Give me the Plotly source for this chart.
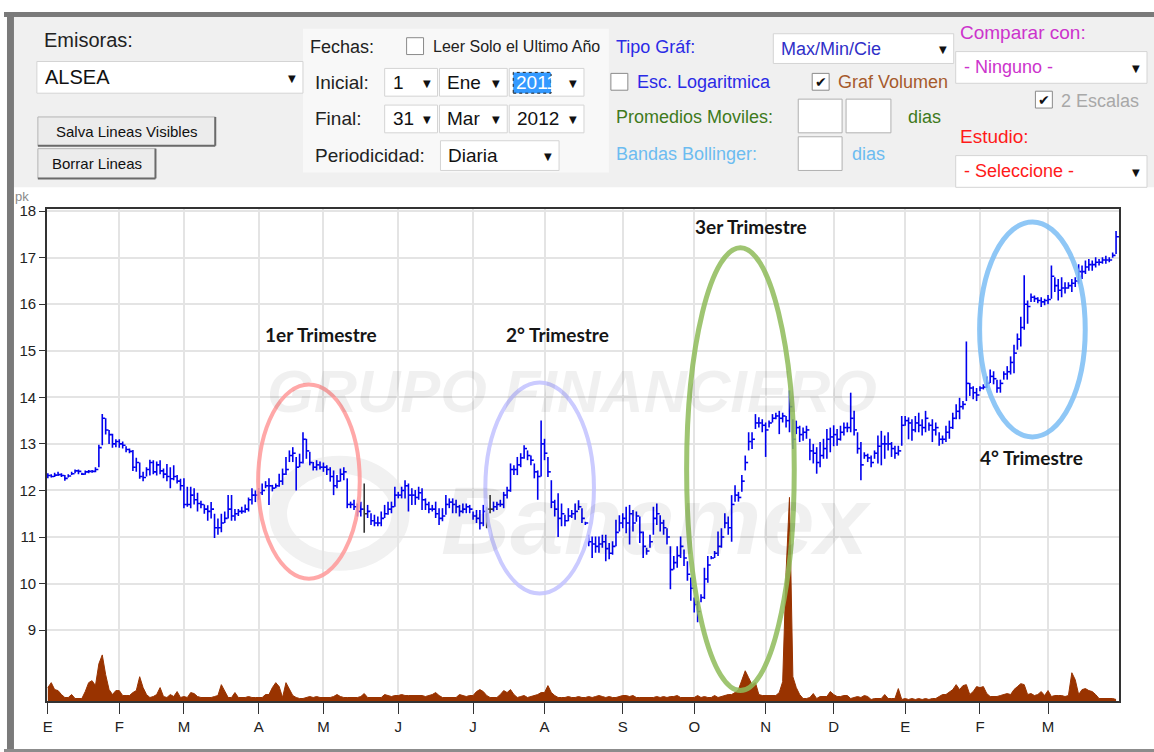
import pandas as pd
import plotly.graph_objects as go

# ---------------- datos ----------------
feriados = ["2011-02-07", "2011-03-21", "2011-04-21", "2011-04-22", "2011-09-16",
            "2011-11-02", "2011-11-21", "2011-12-12", "2012-02-06", "2012-03-19"]
fechas = pd.bdate_range("2011-01-03", "2012-03-30")
fechas = fechas[~fechas.isin(pd.to_datetime(feriados))]

meses = ["E", "F", "M", "A", "M", "J", "J", "A", "S", "O", "N", "D", "E", "F", "M"]
precios_eje = [9, 10, 11, 12, 13, 14, 15, 16, 17, 18]

maximo = [
    # ene 2011
    12.37, 12.35, 12.38, 12.40, 12.37, 12.33, 12.35, 12.40, 12.45, 12.45, 12.38, 12.43, 12.44, 12.44, 12.50, 12.98, 13.64, 13.55, 13.30, 13.22, 13.10,
    # feb
    13.10, 13.05, 12.95, 12.90, 12.87, 12.70, 12.60, 12.40, 12.50, 12.66, 12.65, 12.62, 12.65, 12.47, 12.57, 12.50, 12.54, 12.33, 12.25,
    # mar
    12.26, 12.08, 12.08, 12.05, 11.95, 11.78, 11.70, 11.68, 11.75, 11.50, 11.40, 11.50, 11.55, 11.90, 11.90, 11.60, 11.60, 11.65, 11.70, 11.85, 12.05, 12.00,
    # abr
    12.05, 12.15, 12.20, 12.26, 12.12, 12.15, 12.36, 12.47, 12.72, 12.86, 12.93, 12.72, 12.79, 13.25, 13.11, 12.83, 12.61, 12.65, 12.62,
    # may
    12.60, 12.54, 12.50, 12.43, 12.33, 12.47, 12.50, 12.26, 11.76, 11.80, 11.72, 11.76, 12.15, 11.69, 11.51, 11.48, 11.44, 11.55, 11.69, 11.76, 11.76, 12.08,
    # jun
    11.97, 12.08, 12.22, 12.15, 12.05, 12.01, 12.08, 12.05, 11.83, 11.76, 11.69, 11.76, 11.62, 11.62, 11.90, 11.83, 11.83, 11.80, 11.69, 11.72, 11.72, 11.69,
    # jul
    11.55, 11.58, 11.58, 11.69, 11.65, 11.90, 11.76, 11.76, 11.80, 11.97, 12.08, 12.58, 12.54, 12.72, 12.80, 12.97, 12.86, 12.75, 12.58, 12.43, 13.50,
    # ago
    13.11, 12.72, 12.22, 11.80, 11.94, 11.72, 11.48, 11.62, 11.58, 11.72, 11.79, 11.62, 11.33, 11.05, 11.01, 11.01, 11.01, 11.05, 11.05, 10.87, 10.91, 11.37, 11.47,
    # sep
    11.51, 11.65, 11.69, 11.58, 11.55, 11.44, 11.12, 10.77, 11.05, 11.65, 11.72, 11.47, 11.37, 11.19, 10.80, 10.59, 10.80, 11.01, 10.73, 10.48, 10.13,
    # oct
    9.70, 9.63, 9.77, 10.34, 10.59, 10.59, 10.70, 11.12, 11.19, 11.51, 11.44, 11.90, 12.11, 11.97, 12.33, 12.75, 13.25, 13.25, 13.64, 13.57, 13.53,
    # nov
    13.46, 13.50, 13.64, 13.67, 13.71, 13.67, 13.60, 14.15, 13.53, 13.50, 13.39, 13.35, 13.39, 13.11, 13.00, 12.93, 13.04, 13.11, 13.32, 13.35,
    # dic
    13.40, 13.32, 13.39, 13.46, 13.46, 14.10, 13.71, 13.25, 13.04, 12.82, 12.79, 12.75, 12.86, 13.18, 13.28, 13.18, 13.25, 13.04, 12.96, 12.96, 13.60,
    # ene 2012
    13.60, 13.57, 13.53, 13.60, 13.67, 13.53, 13.71, 13.46, 13.53, 13.46, 13.25, 13.18, 13.39, 13.50, 13.67, 13.85, 13.99, 13.92, 15.20, 14.31, 14.24, 14.20,
    # feb
    14.24, 14.28, 14.45, 14.60, 14.56, 14.38, 14.38, 14.56, 14.67, 14.88, 15.13, 15.37, 15.73, 16.62, 16.08, 16.23, 16.19, 16.15, 16.15, 16.12,
    # mar
    16.20, 16.83, 16.58, 16.54, 16.58, 16.47, 16.47, 16.54, 16.58, 16.86, 16.83, 16.94, 16.97, 16.94, 17.01, 16.97, 17.01, 17.04, 17.01, 17.11, 17.57,
]

minimo = [
    12.26, 12.28, 12.29, 12.31, 12.29, 12.21, 12.28, 12.33, 12.37, 12.35, 12.33, 12.34, 12.37, 12.38, 12.39, 12.50, 12.97, 13.20, 13.00, 12.92, 12.93,
    12.92, 12.90, 12.82, 12.80, 12.42, 12.40, 12.25, 12.20, 12.30, 12.32, 12.35, 12.32, 12.35, 12.26, 12.20, 12.05, 12.22, 12.15, 12.00,
    11.62, 11.65, 11.62, 11.70, 11.55, 11.62, 11.50, 11.35, 11.40, 10.98, 11.05, 11.10, 11.30, 11.40, 11.35, 11.35, 11.45, 11.50, 11.52, 11.55, 11.70, 11.75,
    11.80, 11.90, 12.05, 11.69, 11.98, 12.05, 12.08, 12.12, 12.33, 12.61, 12.61, 12.00, 12.50, 12.58, 12.68, 12.54, 12.43, 12.43, 12.45,
    12.40, 12.33, 12.19, 11.90, 12.05, 12.19, 12.22, 11.62, 11.62, 11.58, 11.44, 11.44, 11.09, 11.41, 11.26, 11.23, 11.23, 11.23, 11.41, 11.48, 11.51, 11.65,
    11.83, 11.83, 11.83, 11.55, 11.69, 11.69, 11.80, 11.58, 11.58, 11.51, 11.55, 11.41, 11.26, 11.34, 11.48, 11.62, 11.51, 11.51, 11.44, 11.51, 11.51, 11.51,
    11.37, 11.30, 11.16, 11.23, 11.19, 11.51, 11.55, 11.58, 11.65, 11.62, 11.83, 11.97, 12.33, 12.33, 12.50, 12.68, 12.65, 12.54, 12.26, 11.80, 12.30,
    12.65, 12.29, 11.62, 11.44, 11.00, 11.23, 11.23, 11.34, 11.41, 11.37, 11.58, 11.30, 11.26, 10.80, 10.55, 10.66, 10.66, 10.77, 10.48, 10.52, 10.62, 10.80, 11.12,
    11.19, 11.08, 10.84, 11.12, 11.33, 10.87, 10.55, 10.62, 10.77, 11.05, 11.26, 11.12, 11.05, 10.84, 9.88, 10.30, 10.34, 10.55, 10.38, 10.06, 9.63,
    9.38, 9.17, 9.60, 9.67, 10.02, 10.52, 10.55, 10.59, 10.77, 11.19, 11.05, 10.90, 11.76, 11.76, 11.97, 12.43, 12.86, 12.89, 13.32, 13.35, 13.25,
    12.72, 13.35, 13.46, 13.53, 13.21, 13.46, 13.35, 13.25, 12.89, 13.21, 13.04, 13.07, 13.11, 12.65, 12.58, 12.36, 12.50, 12.68, 12.68, 12.82,
    12.95, 12.96, 13.07, 13.18, 13.25, 13.25, 13.18, 12.79, 12.22, 12.68, 12.61, 12.50, 12.68, 12.58, 12.54, 12.68, 12.86, 12.72, 12.68, 12.75, 12.96,
    13.39, 13.10, 13.07, 13.25, 13.25, 13.18, 13.25, 13.28, 13.04, 13.18, 12.96, 13.00, 13.04, 13.11, 13.32, 13.53, 13.53, 13.74, 13.92, 14.03, 13.96, 13.92,
    14.13, 14.17, 14.20, 14.31, 14.28, 14.10, 14.10, 14.38, 14.38, 14.49, 14.52, 15.02, 15.09, 15.45, 15.58, 16.05, 16.05, 16.02, 15.94, 15.98,
    16.00, 16.12, 16.26, 16.08, 16.15, 16.23, 16.33, 16.26, 16.37, 16.44, 16.54, 16.65, 16.72, 16.72, 16.79, 16.83, 16.87, 16.87, 16.90, 17.00, 17.08,
]

cierre = [
    12.32, 12.30, 12.33, 12.34, 12.32, 12.26, 12.31, 12.36, 12.42, 12.41, 12.35, 12.40, 12.41, 12.41, 12.45, 12.92, 13.55, 13.30, 13.20, 13.00, 13.05,
    13.00, 12.97, 12.88, 12.84, 12.50, 12.60, 12.30, 12.28, 12.45, 12.60, 12.40, 12.55, 12.42, 12.35, 12.30, 12.25, 12.30, 12.20, 12.10,
    11.70, 11.70, 11.90, 11.80, 11.72, 11.70, 11.60, 11.55, 11.60, 11.20, 11.20, 11.30, 11.40, 11.60, 11.45, 11.50, 11.55, 11.55, 11.60, 11.80, 11.90, 11.90,
    11.95, 12.00, 12.10, 12.10, 12.05, 12.10, 12.20, 12.35, 12.45, 12.75, 12.80, 12.50, 12.60, 13.10, 12.85, 12.60, 12.50, 12.55, 12.50,
    12.50, 12.45, 12.30, 12.10, 12.20, 12.35, 12.40, 11.70, 11.70, 11.65, 11.55, 11.60, 11.50, 11.55, 11.35, 11.30, 11.30, 11.40, 11.50, 11.60, 11.65, 11.90,
    11.90, 12.00, 12.10, 11.90, 11.90, 11.85, 11.95, 11.80, 11.70, 11.60, 11.60, 11.50, 11.40, 11.45, 11.70, 11.75, 11.70, 11.65, 11.55, 11.60, 11.65, 11.60,
    11.45, 11.40, 11.30, 11.55, 11.60, 11.60, 11.65, 11.70, 11.70, 11.90, 12.00, 12.45, 12.45, 12.55, 12.70, 12.90, 12.75, 12.65, 12.40, 12.30, 13.00,
    12.80, 12.40, 11.75, 11.60, 11.40, 11.50, 11.35, 11.45, 11.50, 11.55, 11.65, 11.40, 11.30, 10.90, 10.85, 10.80, 10.85, 10.90, 10.75, 10.65, 10.80, 11.10, 11.30,
    11.40, 11.30, 11.50, 11.30, 11.45, 11.10, 10.80, 10.70, 10.90, 11.40, 11.50, 11.30, 11.20, 11.00, 10.30, 10.45, 10.60, 10.80, 10.55, 10.20, 9.90,
    9.55, 9.40, 9.70, 10.10, 10.40, 10.55, 10.65, 10.80, 11.00, 11.30, 11.20, 11.70, 11.90, 11.85, 12.20, 12.60, 13.05, 13.10, 13.45, 13.45, 13.40,
    13.30, 13.45, 13.55, 13.60, 13.55, 13.60, 13.50, 13.80, 13.10, 13.35, 13.20, 13.25, 13.30, 12.85, 12.80, 12.60, 12.75, 12.90, 13.10, 13.15,
    13.20, 13.10, 13.25, 13.35, 13.35, 13.55, 13.30, 12.90, 12.55, 12.75, 12.70, 12.60, 12.80, 12.95, 13.00, 13.00, 13.00, 12.90, 12.80, 12.85, 13.40,
    13.50, 13.45, 13.30, 13.45, 13.40, 13.35, 13.55, 13.40, 13.30, 13.35, 13.10, 13.10, 13.25, 13.35, 13.55, 13.70, 13.80, 13.85, 14.30, 14.20, 14.10, 14.05,
    14.20, 14.22, 14.30, 14.45, 14.40, 14.20, 14.30, 14.50, 14.55, 14.75, 14.95, 15.25, 15.50, 16.00, 15.95, 16.15, 16.12, 16.08, 16.05, 16.08,
    16.10, 16.60, 16.40, 16.30, 16.35, 16.35, 16.40, 16.45, 16.50, 16.70, 16.70, 16.80, 16.85, 16.85, 16.90, 16.90, 16.95, 16.95, 16.95, 17.05, 17.45,
]

# volumen (cientos de miles de acciones)
volumen = [
    14, 19, 12, 11, 7, 4, 4, 7, 3, 3, 3, 10, 19, 21, 16, 38, 47, 27, 12, 7, 11,
    11, 6, 6, 6, 9, 11, 25, 14, 7, 4, 5, 7, 14, 5, 4, 7, 5, 10, 4,
    5, 4, 9, 8, 5, 4, 4, 4, 4, 5, 6, 17, 11, 4, 4, 9, 4, 4, 4, 5, 4, 4,
    4, 4, 7, 7, 14, 19, 15, 4, 19, 12, 6, 4, 3, 3, 4, 5, 4, 5, 4,
    4, 4, 4, 5, 7, 5, 4, 4, 4, 4, 4, 5, 8, 4, 4, 4, 4, 4, 7, 6, 5, 6,
    6, 7, 6, 6, 6, 6, 6, 6, 5, 6, 7, 9, 6, 4, 4, 4, 4, 4, 7, 6, 5, 6,
    6, 10, 12, 10, 6, 4, 4, 4, 7, 11, 9, 12, 7, 4, 5, 6, 4, 5, 6, 7, 9,
    9, 16, 9, 6, 4, 4, 4, 5, 4, 4, 5, 4, 4, 5, 4, 5, 6, 5, 4, 5, 4, 4, 5,
    6, 6, 5, 6, 4, 4, 4, 4, 4, 4, 5, 4, 5, 4, 5, 5, 6, 4, 4, 4, 4,
    4, 6, 4, 5, 4, 4, 6, 4, 5, 6, 7, 7, 9, 12, 21, 31, 24, 17, 19, 7, 6,
    6, 6, 6, 6, 9, 20, 130, 206, 25, 14, 7, 3, 3, 4, 8, 3, 5, 5, 5, 10,
    7, 5, 5, 6, 6, 3, 4, 5, 4, 6, 5, 2, 3, 3, 3, 7, 3, 3, 3, 13, 2,
    3, 2, 3, 2, 3, 2, 3, 2, 3, 3, 5, 7, 7, 10, 12, 17, 12, 16, 17, 7, 10, 15,
    14, 15, 8, 5, 5, 5, 6, 7, 8, 7, 12, 15, 18, 17, 7, 8, 6, 7, 10, 6,
    11, 5, 6, 6, 6, 5, 6, 29, 22, 7, 12, 13, 11, 10, 7, 3, 3, 3, 3, 3, 2,
]

# barras que el gráfico muestra en gris oscuro
barras_oscuras = [93, 129, 130]

n = min(len(fechas), len(maximo), len(minimo), len(cierre), len(volumen))
print(len(fechas), len(maximo), len(minimo), len(cierre), len(volumen))

inicio_mes = [i for i in range(n) if i == 0 or fechas[i].month != fechas[i - 1].month]
inicio_2012 = [i for i in range(n) if fechas[i].year == 2012][0]


def trazo_barras(indices):
    xs, ys = [], []
    for i in indices:
        xs += [i, i, None, i, i + 0.85, None]
        ys += [minimo[i], maximo[i], None, cierre[i], cierre[i], None]
    return xs, ys


xs_az, ys_az = trazo_barras([i for i in range(n) if i not in barras_oscuras])
xs_os, ys_os = trazo_barras([i for i in barras_oscuras if i < n])

W, H = 1154, 752
UI = "Liberation Sans, Arial, sans-serif"


def px(x):
    return x / W


def py(y):
    return 1 - y / H


shapes = []
annotations = []


def rect(x0, y0, x1, y1, fill, line=None, lw=1, dash=None, layer="below"):
    ln = dict(color=line if line else fill, width=lw if line else 0)
    if dash:
        ln["dash"] = dash
    shapes.append(dict(type="rect", xref="paper", yref="paper", x0=px(x0), x1=px(x1),
                       y0=py(y1), y1=py(y0), fillcolor=fill, line=ln, layer=layer))


def linea(x0, y0, x1, y1, color, lw=1, layer="below"):
    shapes.append(dict(type="line", xref="paper", yref="paper", x0=px(x0), x1=px(x1),
                       y0=py(y0), y1=py(y1), line=dict(color=color, width=lw), layer=layer))


def texto(x, y, s, size=19, color="#222222", anchor="left", family=UI):
    annotations.append(dict(x=px(x), y=py(y), xref="paper", yref="paper", text=s,
                            showarrow=False, xanchor=anchor, yanchor="middle",
                            font=dict(size=size, color=color, family=family)))


def ovalo(x0, y0, x1, y1, color, lw=4):
    shapes.append(dict(type="circle", xref="paper", yref="paper", x0=px(x0), x1=px(x1),
                       y0=py(y1), y1=py(y0), line=dict(color=color, width=lw),
                       opacity=0.85, layer="above"))


def combo(x0, y0, x1, y1, s, color="#111111", size=19):
    rect(x0, y0, x1, y1, "white", "#d4d4d4")
    texto(x0 + 6, (y0 + y1) / 2, s, size, color)
    texto(x1 - 11, (y0 + y1) / 2 + 1, "▼", 10, "#111111", "center", "DejaVu Sans")


def casilla(x0, y0, marcada=False):
    rect(x0, y0, x0 + 17, y0 + 17, "white", "#8a8a8a")
    if marcada:
        texto(x0 + 8.5, y0 + 9, "✔", 14, "#111111", "center", "DejaVu Sans")


def boton(x0, y0, x1, y1, s):
    rect(x0, y0, x1, y1, "#ececec", "#b4b4b4")
    linea(x0, y1, x1, y1, "#6a6a6a", 2)
    linea(x1, y0, x1, y1, "#6a6a6a", 2)
    texto((x0 + x1) / 2, (y0 + y1) / 2, s, 15, "#111111", "center")


# marco y panel de controles
rect(10, 10, W, 182, "#f0f0f0")
rect(0, 5, W, 10, "#7a7a7a")
rect(3, 5, 10, H, "#7a7a7a")
rect(0, 749, W, H, "#8c8c8c")
rect(300, 22, 607, 167, "#f8f8f8")

texto(38, 33, "Emisoras:", 20)
combo(33, 55, 300, 87, "ALSEA", size=20)
boton(34, 111, 212, 140, "Salva Lineas Visibles")
boton(34, 143, 152, 173, "Borrar Lineas")

texto(305, 40, "Fechas:", 18)
casilla(404, 31)
texto(428, 40, "Leer Solo el Ultimo Año", 16)
texto(310, 76, "Inicial:")
combo(382, 62, 435, 90, "1")
combo(437, 62, 505, 90, "Ene")
combo(507, 62, 582, 90, "")
rect(511, 66, 549, 87, "#3399ff", "#222222", 1, "dot")
texto(512, 76.5, "2011", 19, "white")
texto(310, 113, "Final:")
combo(382, 99, 435, 127, "31")
combo(437, 99, 505, 127, "Mar")
combo(507, 99, 582, 127, "2012")
texto(310, 150, "Periodicidad:")
combo(438, 135, 557, 165, "Diaria")

azul_ui = "#2b2be6"
texto(612, 40, "Tipo Gráf:", 18, azul_ui)
combo(772, 27, 953, 57, "Max/Min/Cie", "#3030c8", 18)
casilla(609, 67)
texto(633, 76, "Esc. Logaritmica", 18, azul_ui)
casilla(811, 67, True)
texto(835, 76, "Graf Volumen", 18, "#a65a2c")
texto(612, 111, "Promedios Moviles:", 18, "#3f7a1c")
rect(797, 93, 841, 127, "white", "#b0b0b0")
rect(845, 93, 890, 127, "white", "#b0b0b0")
texto(905, 111, "dias", 18, "#3f7a1c")
texto(612, 148, "Bandas Bollinger:", 18, "#6cbcf0")
rect(797, 131, 841, 165, "white", "#b0b0b0")
texto(849, 148, "dias", 18, "#6cbcf0")

texto(957, 26, "Comparar con:", 19, "#cc33cc")
combo(955, 45, 1147, 77, "- Ninguno -", "#cc33cc", 18)
casilla(1035, 85, True)
texto(1059, 95, "2 Escalas", 18, "#a8a8a8")
texto(957, 131, "Estudio:", 19, "#ff1a1a")
combo(955, 150, 1147, 182, "- Seleccione -", "#ff1a1a", 18)

texto(18, 191, "pk", 13, "#8a8a8a", "center")

# marca de agua
shapes.append(dict(type="circle", xref="paper", yref="paper", x0=px(275), x1=px(398),
                   y0=py(560), y1=py(462), line=dict(color="#f1f1f1", width=18), layer="below"))
texto(570, 388, "<b><i>GRUPO FINANCIERO</i></b>", 60, "rgba(0,0,0,0.06)", "center")
texto(655, 518, "<b><i>Banamex</i></b>", 96, "rgba(0,0,0,0.06)", "center")

# separador de año
shapes.append(dict(type="line", xref="x", yref="paper", x0=inicio_2012, x1=inicio_2012,
                   y0=py(701), y1=py(204), line=dict(color="#7a7a7a", width=1.2), layer="below"))

# óvalos y rótulos
ovalo(255, 381, 357, 577, "#ff9a9a", 4)
ovalo(483, 379, 592, 592, "#c2c2ff", 4)
ovalo(685, 243, 793, 690, "#8fbc5a", 5)
ovalo(979, 217, 1085, 434, "#7cbef5", 5)
TIT = "Lato, Open Sans, sans-serif"
texto(318, 331, "<b>1er Trimestre</b>", 19, "#151515", "center", TIT)
texto(555, 331, "<b>2° Trimestre</b>", 19, "#151515", "center", TIT)
texto(750, 222, "<b>3er Trimestre</b>", 19, "#151515", "center", TIT)
texto(1031, 455, "<b>4° Trimestre</b>", 19, "#151515", "center", TIT)

fig = go.Figure()
fig.add_trace(go.Scatter(x=list(range(n)), y=volumen[:n], yaxis="y2", mode="lines",
                         fill="tozeroy", line=dict(color="#993300", width=1),
                         fillcolor="#993300", hoverinfo="skip", showlegend=False))
fig.add_trace(go.Scatter(x=xs_az, y=ys_az, mode="lines", line=dict(color="#0000ee", width=1.6),
                         hoverinfo="skip", showlegend=False))
fig.add_trace(go.Scatter(x=xs_os, y=ys_os, mode="lines", line=dict(color="#333333", width=1.6),
                         hoverinfo="skip", showlegend=False))

eje = dict(showgrid=True, gridcolor="#e4e4e4", gridwidth=1.5, zeroline=False,
           showline=True, mirror=True, linecolor="#333333", linewidth=1.5,
           ticks="outside", tickcolor="#333333",
           tickfont=dict(size=15, color="#222222", family=UI))

fig.update_layout(
    width=W, height=H, autosize=False,
    margin=dict(l=0, r=0, t=0, b=0),
    paper_bgcolor="white", plot_bgcolor="rgba(0,0,0,0)",
    showlegend=False,
    xaxis=dict(eje, domain=[px(43), px(1119)], range=[-0.29, 314.9],
               tickvals=inicio_mes, ticktext=meses[:len(inicio_mes)], ticklen=11),
    yaxis=dict(eje, domain=[py(701), py(204)], range=[7.468, 18.043],
               tickvals=precios_eje, ticklen=6),
    yaxis2=dict(overlaying="y", range=[0, 497], visible=False),
    shapes=shapes,
    annotations=annotations,
)

fig.write_html("out.html", config={"displayModeBar": False},
               post_script="document.body.style.margin='0px';")
